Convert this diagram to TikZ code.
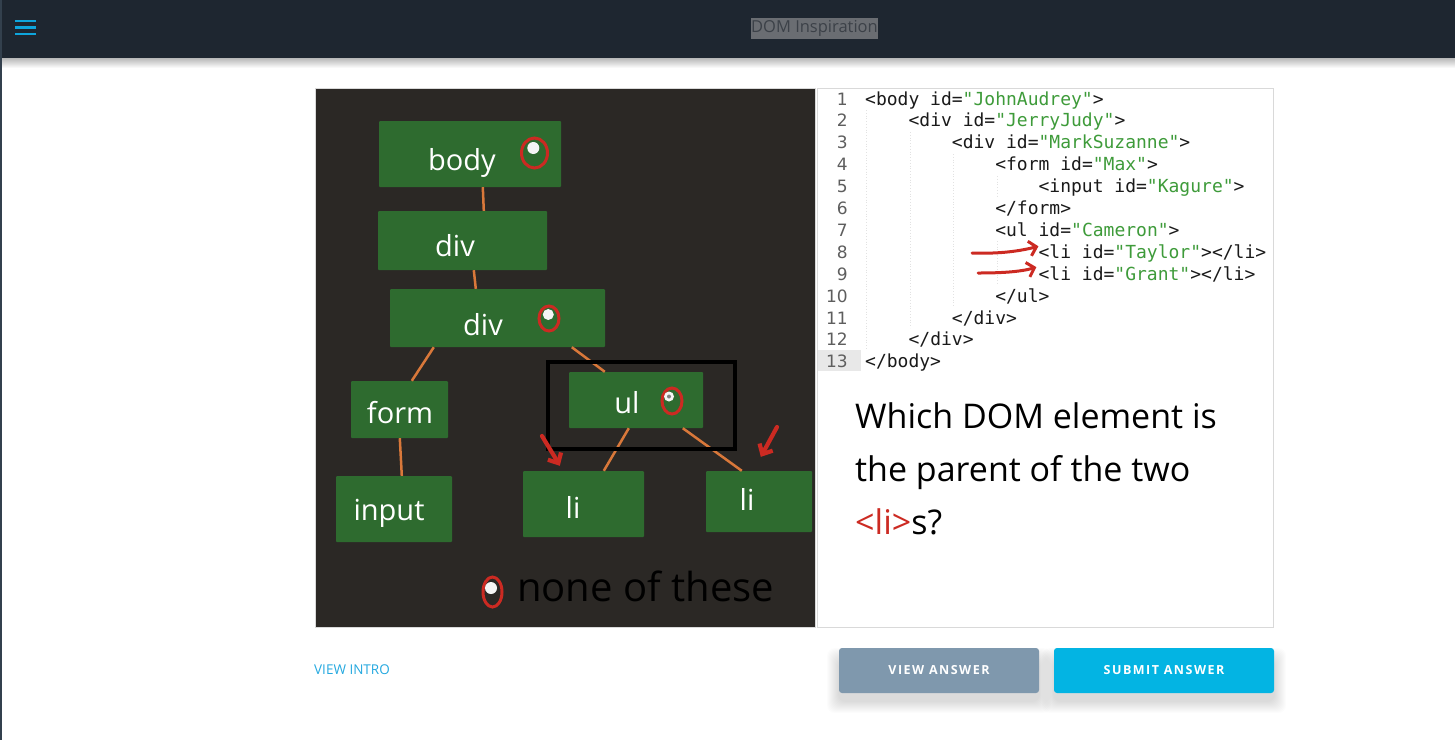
\documentclass[tikz,border=0pt]{standalone}
\usepackage{fontspec}
\setmainfont{Open Sans}
\usetikzlibrary{calc,arrows.meta}
\newfontfamily\handfont{Open Sans}
\newfontfamily\codefont{DejaVu Sans Mono}
\newfontfamily\numfont{DejaVu Sans}
\newfontfamily\btnfont[LetterSpace=12]{Open Sans}
\definecolor{hdr}{HTML}{1E2630}
\definecolor{edge}{HTML}{33404D}
\definecolor{burger}{HTML}{0EA5DC}
\definecolor{titlebg}{HTML}{6A6D72}
\definecolor{titlefg}{HTML}{3C4148}
\definecolor{board}{HTML}{2B2825}
\definecolor{tgreen}{HTML}{2E6B2F}
\definecolor{orange}{HTML}{D9783A}
\definecolor{pen}{HTML}{CC2A22}
\definecolor{codegreen}{HTML}{3E9B3A}
\definecolor{codeblack}{HTML}{1A1A1A}
\definecolor{lnum}{HTML}{5E5E5E}
\definecolor{guide}{HTML}{E2E2E2}
\definecolor{btngray}{HTML}{7F98AD}
\definecolor{btnblue}{HTML}{03B4E3}
\definecolor{linkblue}{HTML}{25A9E0}
\tikzset{
  treebox/.style={fill=tgreen, draw=none, inner sep=0pt, rounded corners=1pt},
  treetext/.style={anchor=base, text=white, font=\handfont\fontsize{29pt}{31pt}\selectfont},
  conn/.style={draw=orange, line width=2.5pt},
  radioring/.style={draw=pen, line width=3pt},
  radiodot/.style={fill=white!92!gray, draw=none},
  penarrow/.style={draw=pen, line width=4.2pt, line cap=round, -{Straight Barb[length=8pt,width=15pt]}},
  codearrow/.style={draw=pen, line width=3pt, line cap=round, -{Straight Barb[length=7pt,width=15pt]}},
  codeline/.style={anchor=base west, inner sep=0pt, text=codeblack, font=\codefont\fontsize{18pt}{20pt}\selectfont},
  linenum/.style={anchor=base east, inner sep=0pt, text=lnum, font=\numfont\fontsize{17pt}{19pt}\selectfont},
  guideline/.style={draw=guide, line width=0.8pt, dotted},
  question/.style={anchor=base west, inner sep=0pt, text=black, font=\handfont\fontsize{34pt}{36pt}\selectfont},
  button/.style={rounded corners=3pt, inner sep=0pt, minimum height=45pt, text=white,
    font=\btnfont\bfseries\fontsize{12.5pt}{14pt}\selectfont},
}
\newcommand{\cg}[1]{\textcolor{codegreen}{#1}}
\newcommand{\softshadow}[4]{% x1 y1 x2 y2
  \foreach \s in {1,...,12}{
    \fill[black, opacity=0.012, rounded corners=8pt]
      ({#1-\s},{#2+8-\s+4}) rectangle ({#3+\s},{#4+8+\s});
  }}
\begin{document}
\begin{tikzpicture}[x=1pt,y=-1pt]
\useasboundingbox (0,0) rectangle (1455,740);
% page
\fill[white] (0,0) rectangle (1455,740);
% header shadow
\shade[top color=black!28, bottom color=white] (0,58) rectangle (1455,68);
\fill[hdr] (0,0) rectangle (1455,58);
\fill[edge] (0,0) rectangle (2,740);
% hamburger
\foreach \yy in {21,27.5,34}{\draw[burger, line width=2.6pt] (15,\yy) -- (36,\yy);}
% title
\node[fill=titlebg, inner sep=0pt, minimum width=123pt, minimum height=21pt, text=titlefg,
  font=\fontsize{16.5pt}{18pt}\selectfont] (title) at (814.5,28.5) {DOM Inspiration};

% ---------- left board ----------
\fill[board] (315,88) rectangle (815,627);
\draw[black!15, line width=0.8pt] (315,88) rectangle (815,627);

\node[treebox, minimum width=182pt, minimum height=66pt] (body) at (470,154) {};
\node[treebox, minimum width=169pt, minimum height=59pt] (div1) at (462.5,240.5) {};
\node[treebox, minimum width=215pt, minimum height=58pt] (div2) at (497.5,318) {};
\node[treebox, minimum width=97pt, minimum height=57pt] (form) at (399.5,409.5) {};
\node[treebox, minimum width=116pt, minimum height=66pt] (input) at (394,509) {};
\node[treebox, minimum width=134pt, minimum height=56pt] (ul) at (636,400) {};
\node[treebox, minimum width=121pt, minimum height=66pt] (li1) at (583.5,504) {};
\node[treebox, minimum width=106pt, minimum height=61pt] (li2) at (759,501.5) {};

\node[treetext] (tbody) at (462,170) {body};
\node[treetext] (tdiv1) at (455,256) {div};
\node[treetext] (tdiv2) at (483,335) {div};
\node[treetext] (tform) at (400,423) {form};
\node[treetext] (tinput) at (389,520) {input};
\node[treetext] (tul) at (627,413) {ul};
\node[treetext] (tli1) at (573,518) {li};
\node[treetext] (tli2) at (747,510) {li};

% connectors
\draw[conn] ($(body.south west)+(104,0)$) -- ($(div1.north west)+(106,0)$);
\draw[conn] ($(div1.south west)+(96,0)$) -- ($(div2.north west)+(86,0)$);
\draw[conn] ($(div2.south west)+(44,0)$) -- ($(form.north west)+(61,0)$);
\draw[conn] ($(div2.south west)+(182,0)$) -- ($(ul.north west)+(36,0)$);
\draw[conn] ($(form.south west)+(49,0)$) -- ($(input.north west)+(66,0)$);
\draw[conn] ($(ul.south west)+(60,0)$) -- ($(li1.north west)+(81,0)$);
\draw[conn] ($(ul.south west)+(114,0)$) -- ($(li2.north west)+(36,0)$);

% radio buttons
\draw[radioring] (534.5,153) ellipse [x radius=13, y radius=15];
\fill[radiodot] (533.3,148) circle (6);
\draw[radioring] (549,318.5) ellipse [x radius=10, y radius=12.5];
\fill[radiodot] (548.3,314.5) circle (5.5);
\draw[radioring] (672,401) ellipse [x radius=10, y radius=13];
\fill[radiodot] (669,396.5) circle (5);
\fill[gray] (669,396.5) circle (2);
\draw[radioring] (492.5,592) ellipse [x radius=9.5, y radius=15];
\fill[radiodot] (491,588) circle (6);

% selection frame
\draw[black, line width=4pt] (548,362) rectangle (735,449);

% red arrows to the two li
\coordinate (pa1) at (542,436);
\coordinate (pa2) at (777,427);
\draw[penarrow] (pa1) .. controls (550,448) .. ($(li1.north west)+(37,-5)$);
\draw[penarrow] (pa2) .. controls (770,440) .. ($(li2.north west)+(55,-14)$);

% none of these
\node[anchor=base west, inner sep=0pt, text=black, font=\handfont\fontsize{40pt}{42pt}\selectfont] (none) at (517,601) {none of these};

% ---------- right panel ----------
\draw[black!15, line width=0.8pt] (817,88) rectangle (1273,627);
\fill[black!9] (818,350) rectangle (861,371);

% indent guides
\draw[guideline] (866,110) -- (866,350);
\draw[guideline] (910,132) -- (910,328);
\draw[guideline] (953,154) -- (953,306);
\draw[guideline] (997,176) -- (997,198);
\draw[guideline] (997,241) -- (997,285);

\foreach \k in {1,...,13}{
  \node[linenum] (n\k) at (848,{105+21.9*(\k-1)}) {\k};
}
\node[codeline] (c1) at (865,105.0) {<body id=\cg{"JohnAudrey"}>};
\node[codeline] (c2) at (908.4,126.9) {<div id=\cg{"JerryJudy"}>};
\node[codeline] (c3) at (951.7,148.8) {<div id=\cg{"MarkSuzanne"}>};
\node[codeline] (c4) at (995.1,170.7) {<form id=\cg{"Max"}>};
\node[codeline] (c5) at (1038.4,192.6) {<input id=\cg{"Kagure"}>};
\node[codeline] (c6) at (995.1,214.5) {</form>};
\node[codeline] (c7) at (995.1,236.4) {<ul id=\cg{"Cameron"}>};
\node[codeline] (c8) at (1038.4,258.3) {<li id=\cg{"Taylor"}></li>};
\node[codeline] (c9) at (1038.4,280.2) {<li id=\cg{"Grant"}></li>};
\node[codeline] (c10) at (995.1,302.1) {</ul>};
\node[codeline] (c11) at (951.7,324.0) {</div>};
\node[codeline] (c12) at (908.4,345.9) {</div>};
\node[codeline] (c13) at (865,367.8) {</body>};

\coordinate (ca8) at (972,253);
\coordinate (ca9) at (978,273);
\draw[codearrow] (ca8) .. controls (1000,254) and (1020,251) .. ($(c8.west)+(0,-7)$);
\draw[codearrow] (ca9) .. controls (1000,273) and (1020,272) .. ($(c9.west)+(-2,-7)$);

% question
\node[question] (q1) at (855,428) {Which DOM element is};
\node[question] (q2) at (855,481) {the parent of the two};
\node[question] (q3) at (855,534) {\textcolor{pen}{<li>}s?};

% ---------- bottom bar ----------
\node[anchor=west, inner sep=0pt, text=linkblue, font=\fontsize{13.5pt}{15pt}\selectfont] (intro) at (314,670) {VIEW INTRO};
\softshadow{839}{648}{1039}{693}
\softshadow{1054}{648}{1274}{693}
\node[button, fill=btngray, minimum width=200pt] (view) at (939,670.5) {VIEW ANSWER};
\node[button, fill=btnblue, minimum width=220pt] (submit) at (1164,670.5) {SUBMIT ANSWER};
\end{tikzpicture}
\end{document}
